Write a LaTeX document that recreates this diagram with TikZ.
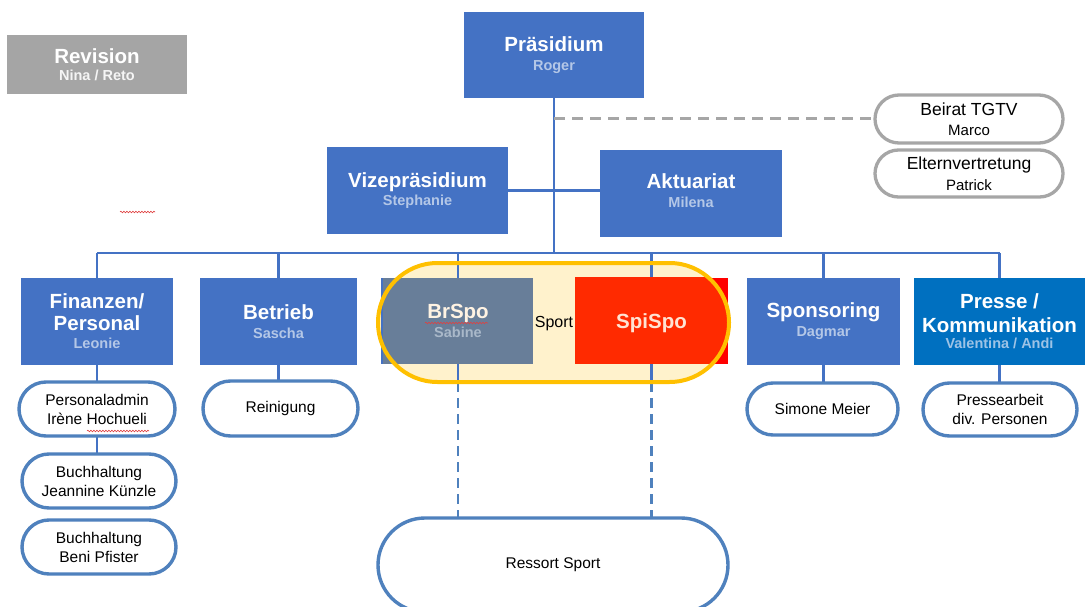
\documentclass[tikz,border=0pt]{standalone}
\usepackage{fontspec}
\setmainfont{Liberation Sans}
\usetikzlibrary{shapes.misc,decorations.pathmorphing}
\definecolor{boxblue}{HTML}{4472C4}
\definecolor{presseblue}{HTML}{0070C0}
\definecolor{namec}{HTML}{B4C7E7}
\definecolor{pnamec}{HTML}{9DC3E6}
\definecolor{linec}{HTML}{4472C4}
\definecolor{subc}{HTML}{4F81BD}
\definecolor{grayc}{HTML}{A6A6A6}
\definecolor{revgray}{HTML}{A5A5A5}
\definecolor{ringc}{HTML}{FFC000}
\definecolor{ringfill}{HTML}{FFF2CC}
\definecolor{brgray}{HTML}{687E99}
\definecolor{brname}{HTML}{A9B8C9}
\definecolor{brtitle}{HTML}{FFF3E3}
\definecolor{spiout}{HTML}{FF0000}
\definecolor{spiin}{HTML}{FF2A00}
\definecolor{spitext}{HTML}{FFE3D3}
\definecolor{wavyc}{HTML}{E04040}
\pgfdeclarelayer{back}\pgfdeclarelayer{mid}\pgfdeclarelayer{front}
\pgfsetlayers{back,mid,main,front}
\newcommand\ttlf{\fontsize{20.5}{23}\selectfont\bfseries}
\newcommand\namef{\fontsize{14.5}{17}\selectfont\bfseries}
\newcommand\subf{\fontsize{15.5}{19}\selectfont}
\tikzset{
 box/.style={rectangle, fill=boxblue, inner sep=0pt, outer sep=0pt, align=center, text=white, font=\ttlf},
 subbox/.style={rounded rectangle, draw=subc, line width=3.4pt, fill=white, inner sep=0pt, outer sep=0pt, align=center, font=\subf},
 graybox/.style={rounded rectangle, draw=grayc, line width=3.3pt, fill=white, inner sep=0pt, outer sep=0pt, align=center, font=\fontsize{17.5}{20}\selectfont},
 conn/.style={draw=linec, line width=2.5pt},
 dconn/.style={draw=subc, line width=2.5pt, dash pattern=on 10pt off 6pt},
 gconn/.style={draw=grayc, line width=3pt, dash pattern=on 11pt off 7pt},
 wavy/.style={draw=wavyc, line width=0.6pt, decorate, decoration={snake, amplitude=0.8pt, segment length=3pt}},
}
\begin{document}
\begin{tikzpicture}[x=1pt,y=-1pt]
\useasboundingbox (0,0) rectangle (1085,607);
\clip (0,0) rectangle (1085,607);
\begin{pgfonlayer}{back}
\fill[white] (0,0) rectangle (1085,607);
\node[rectangle, rounded corners=59.5pt, fill=ringfill, minimum width=351pt, minimum height=119pt, inner sep=0pt, outer sep=0pt] (ring) at (553.5,322.5) {};
\end{pgfonlayer}

% top part
\node[box, fill=revgray, minimum width=180pt, minimum height=59pt] (rev) at (97,64.5) {Revision\\[-6pt]{\namef\color{white!96!black}Nina / Reto}};
\node[box, minimum width=180pt, minimum height=86pt] (praes) at (554,55) {Präsidium\\[-4pt]{\namef\color{namec}Roger}};
\node[box, minimum width=181pt, minimum height=87pt, text depth=3pt] (vize) at (417.5,190.5) {Vizepräsidium\\[-5pt]{\namef\color{namec}Stephanie}};
\node[box, minimum width=182pt, minimum height=87pt, text depth=6pt] (akt) at (691,193.5) {Aktuariat\\[-4pt]{\namef\color{namec}Milena}};
\node[graybox, minimum width=188pt, minimum height=48pt] (beirat) at (969,119) {Beirat TGTV\\{\fontsize{15}{18}\selectfont Marco}};
\node[graybox, minimum width=188pt, minimum height=47pt] (eltern) at (969,173.5) {Elternvertretung\\[1pt]{\fontsize{15}{18}\selectfont Patrick}};

% row
\node[box, minimum width=152pt, minimum height=87pt] (fin) at (97,321.5) {Finanzen/\\[-1pt]Personal\\[-5pt]{\namef\color{namec}Leonie}};
\node[box, minimum width=157pt, minimum height=87pt] (betr) at (278.5,321.5) {Betrieb\\[-4pt]{\namef\color{namec}Sascha}};
\node[box, minimum width=152pt, minimum height=86pt] (brblue) at (457,320.5) {};
\node[box, fill=brgray, text=brtitle, minimum width=150pt, minimum height=86pt] (brspo) at (458,320.5) {BrSpo\\[-4pt]{\namef\color{brname}Sabine}};
\node[box, fill=spiout, text=spitext, minimum width=153pt, minimum height=86pt, text height=20pt,
  path picture={\fill[spiin, rounded corners=59.5pt] (ring.south west) rectangle (ring.north east);}] (spispo) at (651.5,320.5) {SpiSpo};
\node[font=\fontsize{16}{19}\selectfont, inner sep=0pt] (sportlbl) at (554,324) {Sport};
\node[box, minimum width=153pt, minimum height=87pt] (spons) at (823.5,321.5) {Sponsoring\\[-4pt]{\namef\color{namec}Dagmar}};
\node[box, fill=presseblue, minimum width=171pt, minimum height=87pt] (presse) at (999.5,321.5) {Presse /\\[1pt]Kommunikation\\[-7pt]{\namef\color{pnamec}Valentina / Andi}};

% sub boxes
\node[subbox, minimum width=156pt, minimum height=54pt] (pers) at (97,409) {Personaladmin\\Irène Hochueli};
\node[subbox, minimum width=154pt, minimum height=54pt] (buch1) at (99,481) {Buchhaltung\\Jeannine Künzle};
\node[subbox, minimum width=154pt, minimum height=54pt] (buch2) at (99,547) {Buchhaltung\\Beni Pfister};
\node[subbox, minimum width=155pt, minimum height=55pt] (rein) at (280.5,408.5) {Reinigung};
\node[subbox, minimum width=151pt, minimum height=52pt] (simone) at (822.5,409) {Simone Meier};
\node[subbox, minimum width=154pt, minimum height=53pt] (pressub) at (1000,409.5) {Pressearbeit\\div. Personen};
\node[subbox, minimum width=350pt, minimum height=94pt] (ressort) at (553,565) {Ressort Sport};

\coordinate (bus) at (554,253);
\begin{pgfonlayer}{mid}
\draw[conn] (praes.south) -- (praes.south |- bus);
\draw[conn] (vize.east) -- (vize.east -| akt.west);
\draw[gconn] (beirat.west -| praes.south) -- (beirat.west);
\draw[conn] (fin.north |- bus) -- (presse.north |- bus);
\foreach \n in {fin,betr,brspo,spispo,spons,presse}
  \draw[conn] (\n.north |- bus) -- (\n.north);
\foreach \n in {brspo,spispo}{
  \draw[conn] (\n.south) -- (\n.south |- ring.south);
  \draw[dconn] (\n.south |- ring.south) -- (\n.south |- ressort.north);
}
\draw[conn] (fin.south) -- (pers.north);
\draw[conn] (pers.south) -- (pers.south |- buch1.north);
\draw[conn] (betr.south) -- (betr.south |- rein.north);
\draw[conn] (spons.south) -- (spons.south |- simone.north);
\draw[conn] (presse.south) -- (presse.south |- pressub.north);
\end{pgfonlayer}

\begin{pgfonlayer}{front}
\draw[ringc, line width=4pt, rounded corners=59.5pt] (ring.south west) rectangle (ring.north east);
\draw[wavy] (120,212) -- (155,212);
\draw[wavy] (87,431) -- (149,431);
\draw[wavy] (425,323) -- (488,323);
\end{pgfonlayer}
\end{tikzpicture}
\end{document}
